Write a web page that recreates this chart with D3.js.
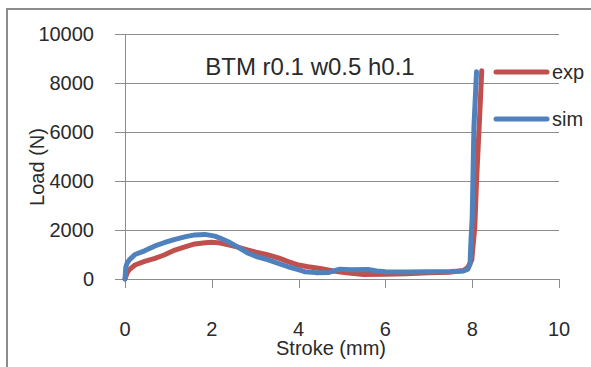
<!DOCTYPE html>
<html>
<head>
<meta charset="utf-8">
<script src="https://cdn.jsdelivr.net/npm/d3@7"></script>
<style>
  body { margin: 0; background: #fff; }
  text { font-family: "Liberation Sans", Arial, sans-serif; fill: #2a2a2a; }
</style>
</head>
<body>
<svg id="chart" width="591" height="367"></svg>
<script>
// stroke (mm) / load (N)
const expStroke = [0, 0.05, 0.1, 0.23, 0.45, 0.69, 0.9, 1.15, 1.4, 1.61, 1.85, 2.0, 2.2, 2.38, 2.6, 2.84, 3.05, 3.3, 3.55, 3.76, 4.0, 4.22, 4.5, 4.8, 5.1, 5.5, 6.0, 6.5, 7.0, 7.5, 7.8, 7.9, 7.99, 8.06, 8.1, 8.16, 8.22];
const expLoad   = [0, 250, 380, 570, 720, 840, 980, 1180, 1320, 1430, 1480, 1500, 1470, 1390, 1300, 1180, 1080, 980, 850, 710, 570, 500, 430, 330, 250, 180, 190, 210, 250, 280, 350, 480, 775, 2130, 4000, 6200, 8500];

const simStroke = [0, 0.02, 0.05, 0.1, 0.23, 0.45, 0.69, 0.9, 1.15, 1.4, 1.61, 1.84, 2.07, 2.2, 2.38, 2.6, 2.84, 3.05, 3.3, 3.55, 3.76, 3.95, 4.14, 4.4, 4.7, 4.95, 5.2, 5.6, 5.8, 6.0, 6.5, 7.0, 7.5, 7.8, 7.9, 7.95, 7.97, 8.0, 8.04, 8.1];
const simLoad   = [0, 500, 650, 780, 1000, 1150, 1350, 1480, 1620, 1730, 1800, 1820, 1750, 1660, 1520, 1300, 1050, 900, 780, 630, 500, 400, 300, 260, 270, 400, 380, 390, 330, 300, 290, 300, 310, 330, 400, 600, 1500, 2500, 6200, 8460];

const seriesNames = ["exp", "sim"];
const seriesColors = ["#C0504D", "#4F81BD"];
const xTicks = [0, 2, 4, 6, 8, 10];
const yTicks = [0, 2000, 4000, 6000, 8000, 10000];

const svg = d3.select("#chart");

// outer frame (cropped at right and bottom)
svg.append("rect")
  .attr("x", 7).attr("y", 9)
  .attr("width", 600).attr("height", 400)
  .attr("fill", "none")
  .attr("stroke", "#8c8c8c")
  .attr("stroke-width", 2);

const x = d3.scaleLinear().domain([0, 10]).range([125, 559]);
const y = d3.scaleLinear().domain([0, 10000]).range([279, 34]);

// horizontal gridlines with left ticks
svg.append("g")
  .selectAll("line")
  .data(yTicks)
  .join("line")
  .attr("x1", 115).attr("x2", x(10))
  .attr("y1", d => Math.round(y(d)) + 0.5)
  .attr("y2", d => Math.round(y(d)) + 0.5)
  .attr("stroke", "#8c8c8c")
  .attr("stroke-width", 1);

// y axis line
svg.append("line")
  .attr("x1", x(0) + 0.5).attr("x2", x(0) + 0.5)
  .attr("y1", y(10000)).attr("y2", y(0))
  .attr("stroke", "#8c8c8c");

// x axis ticks
svg.append("g")
  .selectAll("line")
  .data(xTicks)
  .join("line")
  .attr("x1", d => Math.round(x(d)) + 0.5)
  .attr("x2", d => Math.round(x(d)) + 0.5)
  .attr("y1", y(0)).attr("y2", y(0) + 9)
  .attr("stroke", "#8c8c8c");

// tick labels
svg.append("g")
  .selectAll("text")
  .data(yTicks)
  .join("text")
  .attr("x", 94)
  .attr("y", d => y(d) + 7)
  .attr("text-anchor", "end")
  .style("font-size", "20px")
  .text(d => d);

svg.append("g")
  .selectAll("text")
  .data(xTicks)
  .join("text")
  .attr("x", d => x(d))
  .attr("y", 336)
  .attr("text-anchor", "middle")
  .style("font-size", "20px")
  .text(d => d);

// axis titles
svg.append("text")
  .attr("x", 331).attr("y", 355)
  .attr("text-anchor", "middle")
  .style("font-size", "20px")
  .text("Stroke (mm)");

svg.append("text")
  .attr("transform", "translate(44,167) rotate(-90)")
  .attr("text-anchor", "middle")
  .style("font-size", "20px")
  .text("Load (N)");

// chart title
svg.append("text")
  .attr("x", 310).attr("y", 75)
  .attr("text-anchor", "middle")
  .style("font-size", "24px")
  .text("BTM r0.1 w0.5 h0.1");

// data lines
const line = d3.line()
  .x(d => x(d[0]))
  .y(d => y(d[1]));

const series = [
  d3.zip(expStroke, expLoad),
  d3.zip(simStroke, simLoad)
];

series.forEach((pts, i) => {
  svg.append("path")
    .datum(pts)
    .attr("fill", "none")
    .attr("stroke", seriesColors[i])
    .attr("stroke-width", 5)
    .attr("stroke-linejoin", "round")
    .attr("stroke-linecap", "round")
    .attr("d", line);
});

// legend
const legendY = [72, 119];
seriesNames.forEach((name, i) => {
  svg.append("line")
    .attr("x1", 496).attr("x2", 547)
    .attr("y1", legendY[i]).attr("y2", legendY[i])
    .attr("stroke", seriesColors[i])
    .attr("stroke-width", 5)
    .attr("stroke-linecap", "round");
  svg.append("text")
    .attr("x", 552).attr("y", legendY[i] + 7)
    .style("font-size", "20px")
    .text(name);
});
</script>
</body>
</html>
